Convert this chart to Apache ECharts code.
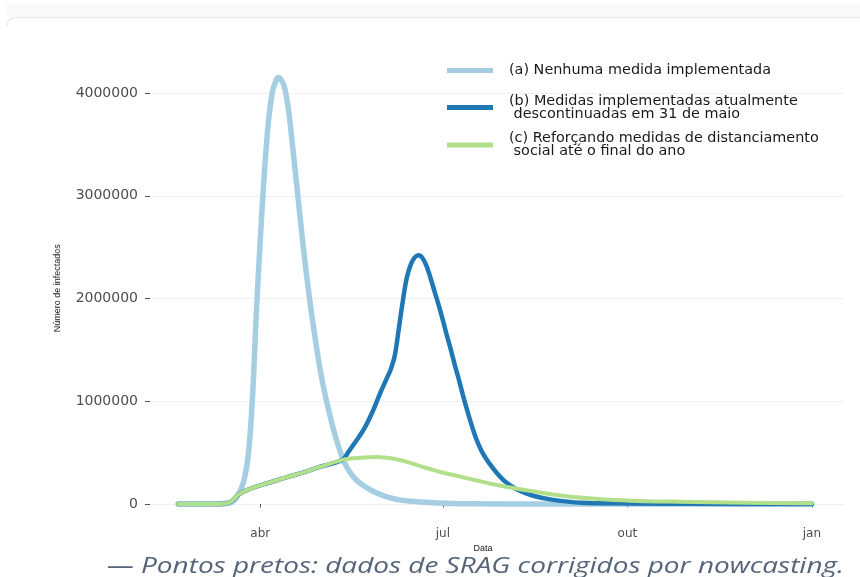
<!DOCTYPE html>
<html>
<head>
<meta charset="utf-8">
<script src="https://cdn.jsdelivr.net/npm/echarts@6/dist/echarts.min.js"></script>
<style>
html, body { margin: 0; padding: 0; background: #ffffff; }
#chart { width: 860px; height: 577px; }
</style>
</head>
<body>
<div id="chart"></div>
<script>
// Scenario names (legend entries)
const seriesNames = [
  '(a) Nenhuma medida implementada',
  '(b) Medidas implementadas atualmente\n descontinuadas em 31 de maio',
  '(c) Reforçando medidas de distanciamento\n social até o final do ano'
];

// (a) no measures
const datesA = ['2020-02-20','2020-03-10','2020-03-16','2020-03-18','2020-03-20','2020-03-22','2020-03-24','2020-03-26','2020-03-28','2020-03-30',
  '2020-04-01','2020-04-03','2020-04-05','2020-04-07','2020-04-09','2020-04-10','2020-04-11','2020-04-13','2020-04-15','2020-04-17',
  '2020-04-19','2020-04-21','2020-04-23','2020-04-25','2020-04-27','2020-04-29','2020-05-01','2020-05-03','2020-05-05','2020-05-07',
  '2020-05-09','2020-05-11','2020-05-13','2020-05-16','2020-05-19','2020-05-24','2020-05-29','2020-06-04','2020-06-10','2020-06-18',
  '2020-06-26','2020-07-14','2020-08-20','2021-01-01'];
const valuesA = [0,0,8000,20000,60000,130000,240000,480000,1000000,1850000,
  2580000,3220000,3710000,4010000,4130000,4150000,4140000,4060000,3840000,3500000,
  3130000,2760000,2400000,2080000,1790000,1530000,1290000,1090000,920000,760000,
  620000,500000,400000,300000,230000,160000,107000,65000,38000,22000,
  13000,3000,0,0];

// (b) measures lifted on 31 May
const datesB = ['2020-02-20','2020-03-12','2020-03-15','2020-03-17','2020-03-19','2020-03-21','2020-03-23','2020-03-26','2020-03-30','2020-04-05',
  '2020-04-14','2020-04-23','2020-05-01','2020-05-12','2020-05-15','2020-05-19','2020-05-23','2020-05-27','2020-05-31','2020-06-03',
  '2020-06-05','2020-06-07','2020-06-09','2020-06-11','2020-06-13','2020-06-15','2020-06-17','2020-06-19','2020-06-21','2020-06-23',
  '2020-06-25','2020-06-27','2020-06-29','2020-07-01','2020-07-03','2020-07-05','2020-07-07','2020-07-09','2020-07-11','2020-07-13',
  '2020-07-15','2020-07-17','2020-07-19','2020-07-21','2020-07-24','2020-07-28','2020-08-01','2020-08-07','2020-08-15','2020-08-25',
  '2020-09-08','2020-10-02','2020-11-07','2021-01-01'];
const valuesB = [0,0,6000,20000,50000,90000,115000,140000,170000,205000,
  260000,310000,363000,430000,510000,620000,740000,900000,1090000,1220000,
  1310000,1440000,1700000,1970000,2200000,2330000,2400000,2420000,2390000,2310000,
  2190000,2060000,1930000,1790000,1640000,1500000,1350000,1210000,1060000,920000,
  790000,670000,570000,490000,400000,300000,220000,140000,80000,40000,
  13000,6000,2000,0];

// (c) distancing kept until the end of the year
const datesC = ['2020-02-20','2020-03-12','2020-03-15','2020-03-17','2020-03-19','2020-03-21','2020-03-23','2020-03-26','2020-03-30','2020-04-05',
  '2020-04-14','2020-04-23','2020-05-01','2020-05-12','2020-05-16','2020-05-21','2020-05-25','2020-05-29','2020-06-02','2020-06-06',
  '2020-06-10','2020-06-14','2020-06-18','2020-06-22','2020-06-26','2020-06-30','2020-07-05','2020-07-10','2020-07-15','2020-07-20',
  '2020-07-25','2020-08-02','2020-08-10','2020-08-17','2020-08-24','2020-09-03','2020-09-15','2020-10-02','2020-10-27','2020-11-29',
  '2021-01-01'];
const valuesC = [0,0,6000,20000,50000,90000,115000,140000,170000,205000,
  260000,310000,363000,430000,442000,450000,455000,457000,453000,443000,
  426000,405000,380000,355000,332000,310000,287000,265000,242000,220000,
  197000,165000,138000,118000,95000,70000,50000,32000,22000,13000,
  7000];

// Axis ticks
const yTicks = [0, 1000000, 2000000, 3000000, 4000000];
const xTickDates = ['2020-04-01','2020-07-01','2020-10-01','2021-01-01'];
const xTickLabels = ['abr','jul','out','jan'];

const colors = ['#a6cee3', '#1f78b4', '#b2df8a'];
const widths = [5.5, 4.5, 4];

function ts(s) {
  const p = s.split('-').map(Number);
  return new Date(p[0], p[1] - 1, p[2]).getTime();
}
function pairs(dates, values) {
  return dates.map((d, i) => [ts(d), values[i]]);
}

const xTickTs = xTickDates.map(ts);
const seriesData = [pairs(datesA, valuesA), pairs(datesB, valuesB), pairs(datesC, valuesC)];
const legendTops = [63.5, 94, 131.5];

const chart = echarts.init(document.getElementById('chart'), null, { renderer: 'canvas' });

chart.setOption({
  animation: false,
  backgroundColor: '#ffffff',
  color: colors,
  graphic: [
    {
      // page strip and card edge above the figure
      type: 'rect', silent: true, z: -10,
      shape: { x: 6, y: 4, width: 860, height: 13 },
      style: { fill: '#fafafa' }
    },
    {
      type: 'bezierCurve', silent: true, z: -9,
      shape: { x1: 7, y1: 26, cpx1: 7, cpy1: 17.5, x2: 16, y2: 17.5 },
      style: { fill: 'none', stroke: '#ececec', lineWidth: 1.5 }
    },
    {
      type: 'line', silent: true, z: -9,
      shape: { x1: 16, y1: 17.5, x2: 860, y2: 17.5 },
      style: { stroke: '#ececec', lineWidth: 1.5 }
    },
    {
      // figure caption
      type: 'text', silent: true,
      x: 107, y: 567, scaleX: 1.33,
      style: {
        text: '\u2014 Pontos pretos: dados de SRAG corrigidos por nowcasting.',
        fontFamily: 'Open Sans',
        fontStyle: 'italic',
        fontSize: 21,
        fill: '#56657a',
        verticalAlign: 'middle'
      }
    }
  ],
  legend: seriesNames.map((name, i) => ({
    data: [name],
    orient: 'vertical',
    left: 447,
    top: legendTops[i],
    icon: 'rect',
    itemWidth: 46,
    itemHeight: 5,
    itemGap: 0,
    padding: 0,
    selectedMode: false,
    textStyle: {
      fontFamily: 'DejaVu Sans',
      fontSize: 14.4,
      lineHeight: 13,
      color: '#1a1a1a',
      padding: [0, 0, 0, 11]
    }
  })),
  grid: { left: 150, right: 16, top: 51.9, bottom: 52.45, containLabel: false },
  xAxis: {
    type: 'value',
    min: ts('2020-02-06'),
    max: ts('2021-01-17'),
    name: 'Data',
    nameLocation: 'middle',
    nameGap: 14,
    nameTextStyle: { fontFamily: 'Liberation Sans', fontSize: 9, color: '#1a1a1a', verticalAlign: 'top', padding: [0, 28, 0, 0] },
    axisLine: { show: false },
    axisTick: { show: true, length: 3.5, customValues: xTickTs, lineStyle: { color: '#555', width: 1 } },
    axisLabel: {
      customValues: xTickTs,
      margin: 3,
      fontFamily: 'DejaVu Sans',
      fontSize: 12,
      color: '#4d4d4d',
      formatter: function (v) {
        const i = xTickTs.indexOf(v);
        return i >= 0 ? xTickLabels[i] : '';
      }
    },
    splitLine: { show: false }
  },
  yAxis: {
    type: 'value',
    min: -200000,
    max: 4400000,
    name: 'Número de infectados',
    nameLocation: 'middle',
    nameGap: 88,
    nameRotate: 90,
    nameTextStyle: { fontFamily: 'Liberation Sans', fontSize: 9, color: '#1a1a1a' },
    axisLine: { show: false },
    axisTick: { show: true, length: 5, customValues: yTicks, lineStyle: { color: '#555', width: 1 } },
    axisLabel: {
      customValues: yTicks,
      margin: 12,
      fontFamily: 'DejaVu Sans',
      fontSize: 14,
      color: '#4d4d4d',
      formatter: function (v) { return String(v); }
    },
    splitLine: { show: true, lineStyle: { color: '#f0f0f0', width: 1 } }
  },
  series: seriesNames.map((name, i) => ({
    name: name,
    type: 'line',
    data: seriesData[i],
    smooth: 0.35,
    showSymbol: false,
    symbol: 'none',
    clip: false,
    z: 2 + i,
    lineStyle: { color: colors[i], width: widths[i], cap: 'round', join: 'round' },
    itemStyle: { color: colors[i] }
  }))
});
</script>
</body>
</html>
